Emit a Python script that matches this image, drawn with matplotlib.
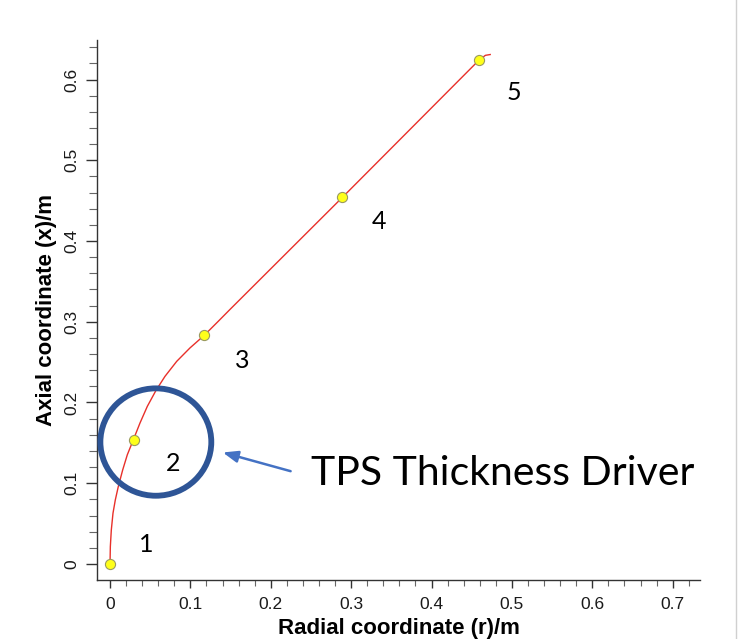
import matplotlib.pyplot as plt
from matplotlib.patches import Ellipse
from matplotlib.lines import Line2D
from matplotlib.ticker import MultipleLocator

# data #####################################
curve_r = [0.0, 0.0004, 0.0016, 0.0037, 0.0066, 0.0103, 0.0158, 0.0215,
           0.029, 0.0373, 0.0464, 0.0572, 0.0684, 0.083, 0.0995, 0.117,
           0.1347, 0.149, 0.289, 0.459, 0.467, 0.473]
curve_x = [0.0, 0.0215, 0.042, 0.0629, 0.0794, 0.0959, 0.1166, 0.1352,
           0.1538, 0.1746, 0.1952, 0.215, 0.2324, 0.251, 0.2676, 0.283,
           0.3006, 0.315, 0.454, 0.624, 0.630, 0.631]

point_r = [0.0, 0.030, 0.117, 0.289, 0.459]
point_x = [0.0, 0.153, 0.283, 0.454, 0.624]

point_labels = ["1", "2", "3", "4", "5"]
label_r = [0.045, 0.078, 0.165, 0.335, 0.502]
label_x = [0.024, 0.125, 0.252, 0.424, 0.584]

x_ticks = [0, 0.1, 0.2, 0.3, 0.4, 0.5, 0.6, 0.7]
y_ticks = [0, 0.1, 0.2, 0.3, 0.4, 0.5, 0.6]
tick_fmt = lambda v: "0" if v == 0 else f"{v:.1f}"

callout_text = "TPS Thickness Driver"
############################################

fig = plt.figure(figsize=(7.45, 6.39), dpi=100)
ax = fig.add_axes([0.1302, 0.0923, 0.8094, 0.8451])

ax.plot(curve_r, curve_x, color="#e8302a", linewidth=1.0, zorder=2)
ax.plot(point_r, point_x, linestyle="none", marker="o", markersize=7.3,
        markerfacecolor="#ffff1a", markeredgecolor="#9a9a60",
        markeredgewidth=0.8, zorder=3, clip_on=False)

for lab, r, x in zip(point_labels, label_r, label_x):
    ax.text(r, x, lab, fontsize=18, family="Lato", ha="center", va="center")

# highlight ellipse + callout
ax.add_patch(Ellipse((0.057, 0.151), 0.138, 0.133, fill=False,
                     edgecolor="#2e5596", linewidth=4.2, zorder=4))
ax.annotate("", xy=(0.137, 0.139), xytext=(0.228, 0.114),
            arrowprops=dict(arrowstyle="-|>,head_length=0.9,head_width=0.35",
                            color="#4472c4", linewidth=1.8),
            annotation_clip=False)
ax.text(0.250, 0.112, callout_text, fontsize=29.5, family="Lato",
        ha="left", va="center", clip_on=False)

ax.set_xlim(-0.0162, 0.734)
ax.set_ylim(-0.0199, 0.649)

for side in ["top", "right"]:
    ax.spines[side].set_visible(False)
for side in ["left", "bottom"]:
    ax.spines[side].set_color("#333333")
    ax.spines[side].set_linewidth(1.0)

ax.set_xticks(x_ticks)
ax.set_xticklabels([tick_fmt(v) for v in x_ticks])
ax.set_yticks(y_ticks)
ax.set_yticklabels([tick_fmt(v) for v in y_ticks], rotation=90, va="center")
ax.xaxis.set_minor_locator(MultipleLocator(0.02))
ax.yaxis.set_minor_locator(MultipleLocator(0.02))

ax.tick_params(axis="x", which="major", length=6, width=1.0, color="#333333",
               labelsize=12.5, labelcolor="#1a1a1a", pad=6.5)
ax.tick_params(axis="x", which="minor", length=4.5, width=0.8, color="#666666")
ax.tick_params(axis="y", which="major", length=8, width=1.0, color="#333333",
               labelsize=12.5, labelcolor="#1a1a1a", pad=5)
ax.tick_params(axis="y", which="minor", length=5.5, width=0.8, color="#666666")
for lab in ax.get_xticklabels() + ax.get_yticklabels():
    lab.set_family("Liberation Sans")

ax.set_xlabel("Radial coordinate (r)/m", fontsize=16, fontweight="bold",
              family="Liberation Sans", labelpad=4)
ax.set_ylabel("Axial coordinate (x)/m", fontsize=16, fontweight="bold",
              family="Liberation Sans", labelpad=5)

# thin grey border line at the right edge of the picture
fig.add_artist(Line2D([0.988, 0.988], [0, 1], color="#d0d0d0", linewidth=1.0))

fig.savefig("out.png", dpi=100)
